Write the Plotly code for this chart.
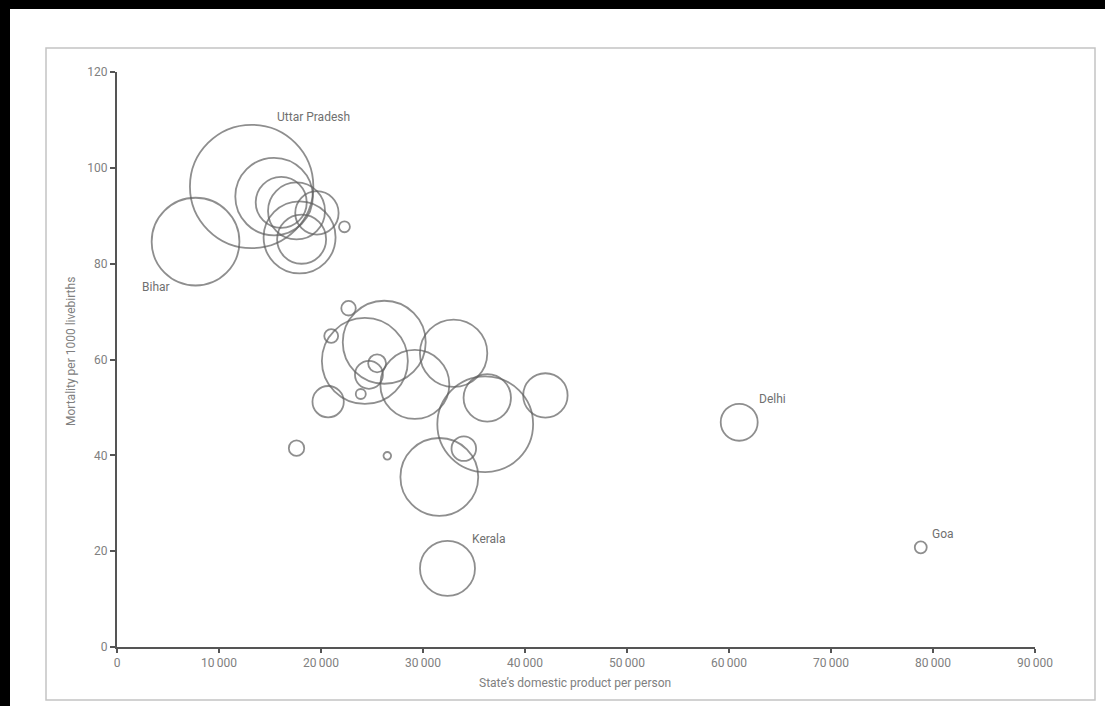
import plotly.graph_objects as go

# Data
gdp_per_person = [13200, 7700, 15400, 16100, 17600, 19600, 17900, 18100, 22300,
                  26200, 24300, 22700, 21000, 20700, 24700, 25500, 23900, 29200,
                  33000, 36100, 36300, 42000, 34000, 31600, 17600, 26500, 32400,
                  61000, 78800]
mortality = [96.1, 84.6, 94.0, 92.8, 91.0, 90.6, 85.5, 85.1, 87.7,
             63.6, 59.7, 70.7, 64.9, 51.2, 56.8, 59.2, 52.8, 54.8,
             61.3, 46.5, 52.0, 52.5, 41.4, 35.5, 41.5, 39.9, 16.4,
             46.9, 20.8]
population = [166, 84, 65.6, 28.4, 35.4, 20.5, 56.5, 26.2, 1.3,
              75, 80.6, 2.3, 2.1, 10.7, 8.5, 3.5, 1.1, 51.9,
              49.5, 100, 24.5, 21.5, 6.6, 66, 2.6, 0.63, 33,
              14.9, 1.57]

label_names = ["Uttar Pradesh", "Bihar", "Kerala", "Delhi", "Goa"]
label_index = [0, 1, 26, 27, 28]

x_ticks = [0, 10000, 20000, 30000, 40000, 50000, 60000, 70000, 80000, 90000]
x_ticktext = ["0", "10\u2009000", "20\u2009000", "30\u2009000", "40\u2009000",
              "50\u2009000", "60\u2009000", "70\u2009000", "80\u2009000", "90\u2009000"]
y_ticks = [0, 20, 40, 60, 80, 100, 120]

FONT = "Liberation Sans Narrow, Roboto, Open Sans, sans-serif"
CIRCLE = "#5e5e5e"
TEXT = "#808080"
AXIS = "#555555"

fig = go.Figure()
fig.add_trace(go.Scatter(
    x=gdp_per_person, y=mortality, mode="markers",
    marker=dict(size=population, sizemode="area", sizeref=0.0218,
                symbol="circle-open", color=CIRCLE,
                line=dict(width=1.8, color=CIRCLE)),
    cliponaxis=False, hoverinfo="x+y", showlegend=False))

# label offsets (pixels) relative to each labelled bubble
offsets = [(62, 70), (-40, -45), (42, 29), (33, 23), (22, 13)]
for name, idx, (dx, dy) in zip(label_names, label_index, offsets):
    fig.add_annotation(x=gdp_per_person[idx], y=mortality[idx], text=name,
                       showarrow=False, xshift=dx, yshift=dy,
                       xanchor="center", yanchor="middle",
                       font=dict(family=FONT, size=12, color="#707070"))

W, H = 1105, 706
L, R, T, B = 117, 70, 72, 59
pw, ph = W - L - R, H - T - B


def px(xp):
    return (xp - L) / pw


def py(yp):
    return (H - B - yp) / ph


shapes = [
    # inner gray frame
    dict(type="rect", xref="paper", yref="paper", x0=px(46), x1=px(1095),
         y0=py(700), y1=py(48), line=dict(color="#c4c4c4", width=1.5),
         fillcolor="rgba(0,0,0,0)", layer="below"),
    # black scan borders
    dict(type="rect", xref="paper", yref="paper", x0=px(0), x1=px(W),
         y0=py(9), y1=py(0), line=dict(width=0), fillcolor="black"),
    dict(type="rect", xref="paper", yref="paper", x0=px(0), x1=px(10),
         y0=py(H), y1=py(0), line=dict(width=0), fillcolor="black"),
]

fig.add_annotation(x=px(575), y=py(683), xref="paper", yref="paper",
                   xanchor="center", yanchor="middle",
                   text="State\u2019s domestic product per person", showarrow=False,
                   font=dict(family=FONT, size=12, color=TEXT))
fig.add_annotation(x=px(71), y=py(352), xref="paper", yref="paper",
                   xanchor="center", yanchor="middle",
                   text="Mortality per 1000 livebirths", showarrow=False, textangle=-90,
                   font=dict(family=FONT, size=12, color=TEXT))

fig.update_layout(
    width=W, height=H,
    margin=dict(l=L, r=R, t=T, b=B, pad=0),
    paper_bgcolor="white", plot_bgcolor="white",
    shapes=shapes,
    xaxis=dict(range=[0, 90000], tickvals=x_ticks, ticktext=x_ticktext,
               showgrid=False, zeroline=False, showline=True, linecolor=AXIS,
               linewidth=2, ticks="outside", ticklen=4, tickwidth=1.5,
               tickcolor=AXIS, tickfont=dict(family=FONT, size=12, color=TEXT)),
    yaxis=dict(range=[0, 120], tickvals=y_ticks, showgrid=False, zeroline=False,
               showline=True, linecolor=AXIS, linewidth=2, ticks="outside",
               ticklen=5, tickwidth=1.5, tickcolor=AXIS,
               tickfont=dict(family=FONT, size=12, color=TEXT)),
)

fig.write_html("out.html", config={"displayModeBar": False},
               post_script="document.body.style.margin='0px';")
